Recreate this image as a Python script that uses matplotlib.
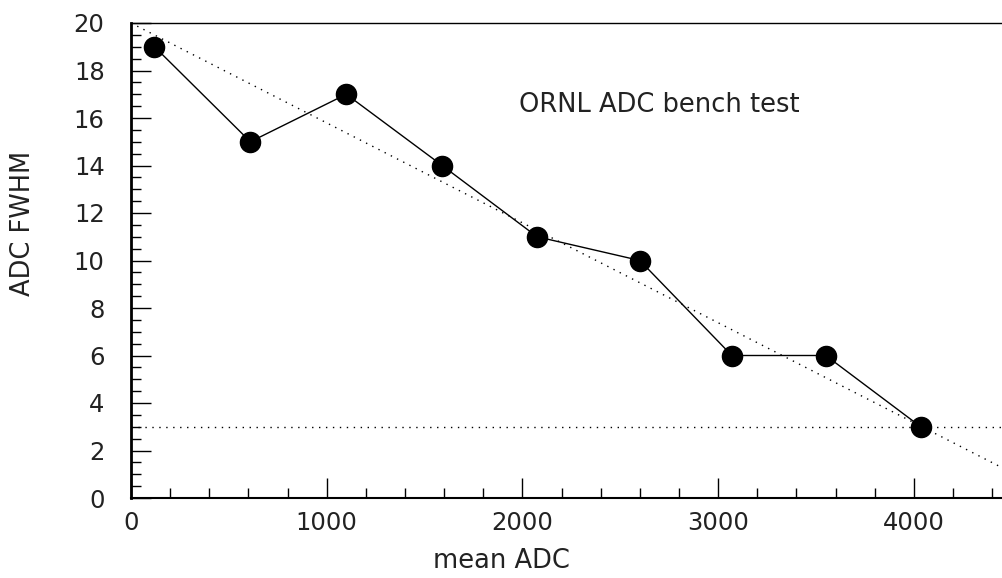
# ORNL ADC bench test - FWHM vs mean ADC

import matplotlib
matplotlib.use('Agg')
import matplotlib.pyplot as plt
from matplotlib.ticker import MultipleLocator

mean_adc = [120, 610, 1100, 1590, 2075, 2600, 3070, 3550, 4035]
fwhm = [19, 15, 17, 14, 11, 10, 6, 6, 3]

# dotted trend line (end points) and the 3-channel level
trend_x = [0, 4500]
trend_y = [20.0, 1.07]
level_y = 3

plt.rcParams['font.family'] = ['DejaVu Sans']
txt_col = '#222222'

fig = plt.figure(figsize=(10.03, 5.78), dpi=100)
ax = fig.add_axes([131 / 1003, 80 / 578, 880.7 / 1003, 475 / 578])

ax.plot(trend_x, trend_y, color='black', lw=1, ls=(0, (1, 4)))
ax.axhline(level_y, color='black', lw=1, ls=(0, (1, 4)))
ax.plot(mean_adc, fwhm, color='black', lw=1, marker='o', markersize=14.5,
        markerfacecolor='black', markeredgecolor='black')

ax.set_xlim(0, 4500)
ax.set_ylim(0, 20)
ax.xaxis.set_major_locator(MultipleLocator(1000))
ax.xaxis.set_minor_locator(MultipleLocator(200))
ax.yaxis.set_major_locator(MultipleLocator(2))
ax.yaxis.set_minor_locator(MultipleLocator(0.5))

ax.tick_params(which='both', direction='in', top=False, right=False, color='black')
ax.tick_params(which='major', length=14.5, width=1, labelsize=17.5, pad=9,
               labelcolor=txt_col)
ax.tick_params(which='minor', length=7.2, width=1)
ax.tick_params(axis='y', which='major', pad=19)

ax.spines['left'].set_linewidth(2)
ax.spines['bottom'].set_linewidth(1.5)
ax.spines['top'].set_linewidth(1)
ax.spines['right'].set_linewidth(1)

# axis titles sit where ROOT put them, not at the axis centre
fig.text(501 / 1003, 1 - 561 / 578, 'mean ADC', fontsize=18.5, color=txt_col,
         ha='center', va='center')
fig.text(23 / 1003, 1 - 223 / 578, 'ADC FWHM', fontsize=18.5, color=txt_col,
         ha='center', va='center', rotation=90)
fig.text(659 / 1003, 1 - 105 / 578, 'ORNL ADC bench test', fontsize=18.5,
         color=txt_col, ha='center', va='center')

fig.savefig('out.png', dpi=100)
